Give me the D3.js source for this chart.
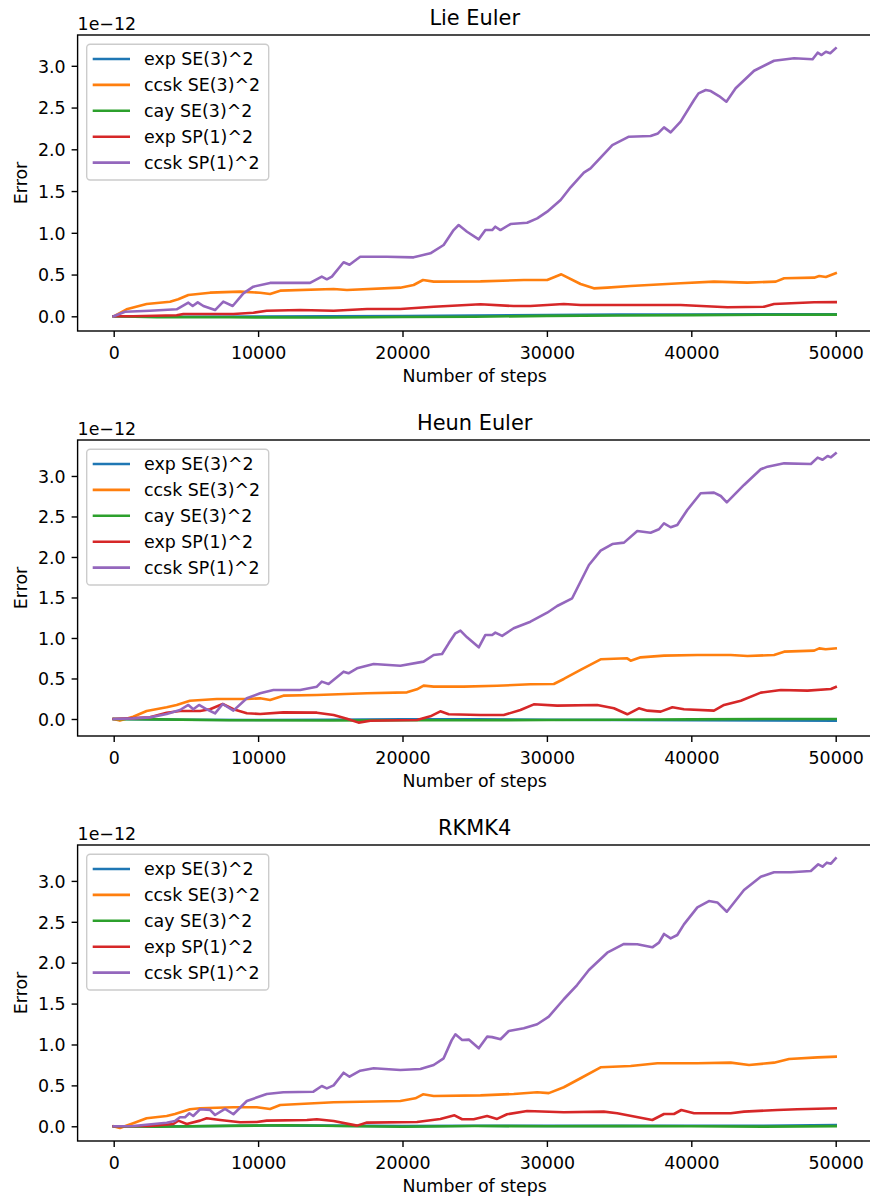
<!DOCTYPE html>
<html>
<head>
<meta charset="utf-8">
<script src="https://cdn.jsdelivr.net/npm/d3@7"></script>
<style>
  body { margin: 0; background: #fff; }
  text { font-family: "DejaVu Sans", sans-serif; fill: #000; }
</style>
</head>
<body>
<div id="chart"></div>
<script>
// panel titles, legend names and tick values
var panelTitles = ["Lie Euler", "Heun Euler", "RKMK4"];
var seriesNames = ["exp SE(3)^2", "ccsk SE(3)^2", "cay SE(3)^2", "exp SP(1)^2", "ccsk SP(1)^2"];
var seriesColors = ["#1f77b4", "#ff7f0e", "#2ca02c", "#d62728", "#9467bd"];
var xTicks = [0, 10000, 20000, 30000, 40000, 50000];
var yTicks = [0, 0.5, 1.0, 1.5, 2.0, 2.5, 3.0];

// values are [step, error / 1e-12]
// --- Lie Euler ---
var lieExpSE3 = [[0,0],[5000,-0.005],[10000,-0.004],[15000,0.0],[20000,0.004],[25000,0.01],[30000,0.015],[35000,0.02],[40000,0.022],[45000,0.024],[50000,0.025]];
var lieCcskSE3 = [[0,0],[890,0.084],[2280,0.147],[3900,0.175],[4470,0.204],[5170,0.255],[6670,0.283],[8750,0.295],[10140,0.283],[10830,0.267],[11530,0.307],[15230,0.327],[16150,0.315],[19850,0.343],[20770,0.375],[21420,0.435],[22160,0.415],[25400,0.418],[28400,0.435],[30020,0.435],[31000,0.503],[32330,0.387],[33250,0.335],[34180,0.343],[35800,0.363],[39260,0.395],[41570,0.415],[43890,0.403],[45850,0.415],[46430,0.455],[48510,0.463],[48860,0.483],[49320,0.47],[50000,0.515]];
var lieCaySE3 = [[0,0],[3000,-0.01],[8000,-0.012],[15000,-0.015],[20000,-0.008],[25000,-0.005],[30000,0.005],[35000,0.01],[40000,0.014],[45000,0.018],[50000,0.02]];
var lieExpSP1 = [[0,0],[1350,0],[4360,0.012],[4820,0.028],[8290,0.028],[9670,0.043],[10600,0.067],[12910,0.075],[15230,0.067],[17540,0.087],[19850,0.087],[22160,0.115],[25400,0.144],[27700,0.123],[28860,0.123],[31170,0.147],[32330,0.135],[34640,0.135],[39260,0.135],[42500,0.108],[45040,0.115],[45730,0.147],[48510,0.168],[50000,0.17]];
var lieCcskSP1 = [[0,0],[780,0.055],[2500,0.067],[4360,0.084],[5170,0.163],[5470,0.123],[5820,0.167],[6210,0.123],[7020,0.075],[7590,0.175],[8240,0.123],[8980,0.275],[9670,0.355],[10830,0.40],[12910,0.40],[13600,0.40],[14410,0.475],[14760,0.443],[15110,0.475],[15920,0.647],[16330,0.618],[17070,0.714],[18920,0.714],[20770,0.706],[21930,0.754],[22850,0.854],[23540,1.033],[23890,1.093],[24470,1.013],[25280,0.922],[25740,1.033],[26210,1.033],[26430,1.073],[26780,1.033],[27480,1.105],[28630,1.12],[29330,1.173],[30020,1.253],[30950,1.393],[31640,1.545],[32560,1.72],[33020,1.772],[34530,2.051],[35680,2.151],[37180,2.159],[37690,2.19],[38110,2.263],[38570,2.203],[39260,2.331],[40190,2.59],[40500,2.67],[41000,2.71],[41350,2.698],[41920,2.638],[42430,2.57],[43070,2.731],[44350,2.941],[45730,3.061],[47120,3.09],[48400,3.078],[48750,3.157],[49020,3.129],[49320,3.169],[49620,3.15],[50000,3.21]];

// --- Heun Euler ---
var heunExpSE3 = [[0,0],[5000,-0.01],[10000,-0.012],[15000,-0.01],[20000,-0.005],[25000,-0.005],[30000,-0.01],[35000,-0.012],[40000,-0.015],[45000,-0.018],[50000,-0.02]];
var heunCcskSE3 = [[0,0],[430,-0.02],[1350,0.028],[2280,0.099],[3670,0.144],[4360,0.173],[5280,0.226],[7140,0.247],[9220,0.247],[10140,0.255],[10830,0.235],[11750,0.288],[14070,0.296],[17540,0.317],[20310,0.329],[21000,0.366],[21460,0.412],[22160,0.4],[24240,0.4],[26550,0.41],[28860,0.428],[30480,0.432],[31170,0.494],[32330,0.605],[33720,0.737],[35560,0.749],[35800,0.72],[36490,0.761],[38110,0.782],[40420,0.79],[42730,0.79],[43890,0.778],[45730,0.79],[46430,0.831],[48510,0.844],[48860,0.872],[49300,0.86],[50000,0.872]];
var heunCaySE3 = [[0,0],[3000,-0.005],[8000,-0.015],[15000,-0.018],[20000,-0.015],[25000,-0.015],[30000,-0.012],[35000,-0.01],[40000,-0.005],[45000,0.0],[50000,0.0]];
var heunExpSP1 = [[0,0],[2510,0.02],[3670,0.078],[4590,0.099],[5980,0.099],[6670,0.12],[7550,0.185],[8290,0.12],[9220,0.07],[10140,0.062],[11750,0.082],[14070,0.078],[15230,0.049],[16150,0.004],[16960,-0.045],[17770,-0.021],[21000,-0.012],[21930,0.033],[22620,0.095],[23200,0.058],[25400,0.049],[27010,0.049],[28170,0.111],[29090,0.181],[30710,0.165],[33480,0.173],[34640,0.132],[35570,0.058],[36370,0.132],[36960,0.103],[37880,0.091],[38690,0.144],[39490,0.12],[41570,0.103],[42270,0.173],[43430,0.226],[44810,0.325],[46200,0.358],[48050,0.35],[49670,0.37],[50000,0.395]];
var heunCcskSP1 = [[0,0],[1350,0.008],[2510,0.02],[3670,0.062],[4590,0.111],[5170,0.173],[5510,0.12],[5910,0.173],[6440,0.12],[7020,0.07],[7550,0.185],[8290,0.103],[9220,0.255],[10140,0.317],[11060,0.358],[12910,0.358],[14070,0.399],[14410,0.461],[14880,0.432],[15920,0.584],[16260,0.564],[16850,0.626],[18000,0.679],[19850,0.658],[21460,0.708],[22160,0.79],[22740,0.802],[23200,0.934],[23660,1.058],[24010,1.09],[24470,1.008],[25280,0.885],[25740,1.037],[26210,1.037],[26430,1.066],[26900,1.025],[27700,1.12],[28860,1.201],[30020,1.312],[30710,1.395],[31750,1.49],[32910,1.901],[33720,2.078],[34530,2.16],[35340,2.177],[36260,2.321],[37180,2.3],[37760,2.342],[38110,2.416],[38570,2.367],[39030,2.395],[39720,2.58],[40650,2.786],[41570,2.794],[42040,2.753],[42460,2.675],[43650,2.889],[44810,3.083],[45280,3.115],[46430,3.156],[48280,3.148],[48750,3.226],[49090,3.2],[49440,3.247],[49670,3.23],[50000,3.28]];

// --- RKMK4 ---
var rkmkExpSE3 = [[0,0],[5000,0.0],[10000,0.01],[15000,0.008],[20000,0.002],[25000,0.006],[30000,0.005],[35000,0.005],[40000,0.006],[45000,0.006],[50000,0.015]];
var rkmkCcskSE3 = [[0,0],[430,-0.02],[1350,0.037],[2280,0.098],[3670,0.126],[4240,0.15],[5280,0.208],[5980,0.22],[8290,0.232],[9910,0.232],[10830,0.212],[11530,0.26],[15230,0.293],[19850,0.309],[20890,0.342],[21420,0.391],[22160,0.37],[25400,0.378],[27700,0.395],[29330,0.416],[30130,0.405],[31170,0.477],[32330,0.587],[33720,0.721],[35800,0.737],[37650,0.77],[40420,0.77],[42730,0.778],[44000,0.749],[45730,0.778],[46770,0.823],[48740,0.843],[50000,0.851]];
var rkmkCaySE3 = [[0,0],[3000,-0.005],[8000,0.005],[12000,0.012],[17000,0.0],[20000,-0.006],[25000,0.004],[30000,0.0],[35000,0.002],[40000,0.0],[45000,-0.004],[50000,0.002]];
var rkmkExpSP1 = [[0,0],[2510,0.004],[4130,0.028],[4470,0.069],[5060,0.028],[5980,0.069],[6440,0.098],[7370,0.077],[8750,0.049],[9910,0.053],[10600,0.069],[13380,0.077],[14070,0.086],[15230,0.065],[16850,0.008],[17540,0.045],[21000,0.053],[22620,0.089],[23600,0.134],[24130,0.086],[24930,0.086],[25860,0.126],[26550,0.09],[27240,0.147],[28630,0.187],[31170,0.171],[33940,0.179],[34870,0.16],[37300,0.077],[38110,0.15],[38800,0.15],[39310,0.199],[40190,0.159],[42730,0.159],[43650,0.179],[45960,0.199],[47340,0.208],[50000,0.22]];
var rkmkCcskSP1 = [[0,0],[1350,0.004],[3670,0.044],[4240,0.065],[4590,0.11],[4940,0.11],[5240,0.159],[5510,0.126],[5980,0.208],[6670,0.2],[7020,0.138],[7710,0.212],[8290,0.147],[9220,0.309],[10600,0.395],[11750,0.416],[13830,0.423],[14410,0.493],[14760,0.464],[15230,0.5],[15920,0.655],[16330,0.606],[17070,0.68],[18000,0.709],[19850,0.688],[21240,0.70],[22160,0.749],[22850,0.831],[23400,1.05],[23660,1.124],[24130,1.055],[24590,1.06],[25280,0.953],[25860,1.096],[26210,1.09],[26790,1.064],[27360,1.165],[28400,1.198],[29330,1.247],[30130,1.34],[31170,1.553],[32090,1.727],[32910,1.911],[34180,2.122],[35340,2.229],[36260,2.225],[37300,2.188],[37760,2.245],[38110,2.351],[38570,2.298],[39030,2.339],[39490,2.469],[40420,2.677],[41220,2.754],[41800,2.737],[42460,2.623],[43650,2.889],[44810,3.051],[45730,3.105],[46890,3.105],[48280,3.121],[48790,3.203],[49090,3.174],[49390,3.223],[49670,3.21],[50000,3.276]];

var panelSeries = [
  [lieExpSE3, lieCcskSE3, lieCaySE3, lieExpSP1, lieCcskSP1],
  [heunExpSE3, heunCcskSE3, heunCaySE3, heunExpSP1, heunCcskSP1],
  [rkmkExpSE3, rkmkCcskSE3, rkmkCaySE3, rkmkExpSP1, rkmkCcskSP1]
];
// axis limits of each panel (matplotlib auto margins)
var yLimits = [[-0.176, 3.369], [-0.21, 3.444], [-0.18, 3.439]];

var svgWidth = 870;
var svgHeight = 1198;
var fontSize = 17.4;

// panel layout
var plotLeft = 77.6;
var plotRight = 871.8;
var plotTops = [35, 440, 845];
var plotHeight = 296;

var svg = d3.select("#chart")
  .append("svg")
  .attr("width", svgWidth)
  .attr("height", svgHeight);

var xScale = d3.scaleLinear()
  .domain([-2500, 52500])
  .range([plotLeft, plotRight]);

panelTitles.forEach(function(title, p) {
  var top = plotTops[p];
  var bottom = top + plotHeight;

  var yScale = d3.scaleLinear()
    .domain(yLimits[p])
    .range([bottom, top]);

  var g = svg.append("g");

  // x axis
  var xAxis = g.append("g")
    .attr("transform", `translate(0, ${bottom})`)
    .call(d3.axisBottom(xScale).tickValues(xTicks).tickFormat(d3.format("d"))
      .tickSize(6).tickSizeOuter(0).tickPadding(5));
  // y axis
  var yAxis = g.append("g")
    .attr("transform", `translate(${plotLeft}, 0)`)
    .call(d3.axisLeft(yScale).tickValues(yTicks).tickFormat(d3.format(".1f"))
      .tickSize(6).tickSizeOuter(0).tickPadding(6));

  [xAxis, yAxis].forEach(function(ax) {
    ax.select(".domain").remove();
    ax.selectAll(".tick line").attr("stroke", "#000").attr("stroke-width", 1.4);
    ax.selectAll(".tick text")
      .style("font-family", "'DejaVu Sans', sans-serif")
      .style("font-size", fontSize + "px")
      .attr("fill", "#000");
  });
  xAxis.selectAll(".tick text").attr("dy", "0.95em");
  yAxis.selectAll(".tick text").attr("dy", "0.36em");

  // lines
  var line = d3.line()
    .x(d => xScale(d[0]))
    .y(d => yScale(d[1]));

  panelSeries[p].forEach(function(series, i) {
    g.append("path")
      .datum(series)
      .attr("d", line)
      .attr("fill", "none")
      .attr("stroke", seriesColors[i])
      .attr("stroke-width", 2.6)
      .attr("stroke-linejoin", "round")
      .attr("stroke-linecap", "square");
  });

  // frame
  g.append("rect")
    .attr("x", plotLeft)
    .attr("y", top)
    .attr("width", plotRight - plotLeft)
    .attr("height", plotHeight)
    .attr("fill", "none")
    .attr("stroke", "#000")
    .attr("stroke-width", 1.4);

  // title
  g.append("text")
    .attr("x", (plotLeft + plotRight) / 2)
    .attr("y", top - 10)
    .attr("text-anchor", "middle")
    .style("font-size", "20.9px")
    .text(title);

  // offset text
  g.append("text")
    .attr("x", plotLeft)
    .attr("y", top - 5)
    .style("font-size", fontSize + "px")
    .text("1e\u221212");

  // axis labels
  g.append("text")
    .attr("x", (plotLeft + plotRight) / 2)
    .attr("y", bottom + 51)
    .attr("text-anchor", "middle")
    .style("font-size", fontSize + "px")
    .text("Number of steps");

  g.append("text")
    .attr("transform", `translate(26.5, ${(top + bottom) / 2}) rotate(-90)`)
    .attr("text-anchor", "middle")
    .style("font-size", fontSize + "px")
    .text("Error");

  // legend
  var legend = g.append("g")
    .attr("transform", `translate(86.7, ${top + 9.3})`);

  legend.append("rect")
    .attr("width", 182)
    .attr("height", 135.7)
    .attr("rx", 3.5)
    .attr("fill", "#fff")
    .attr("fill-opacity", 0.8)
    .attr("stroke", "#cccccc")
    .attr("stroke-width", 1.4);

  seriesNames.forEach(function(name, i) {
    var rowY = 14.7 + i * 25.9;
    legend.append("line")
      .attr("x1", 6)
      .attr("x2", 43.3)
      .attr("y1", rowY)
      .attr("y2", rowY)
      .attr("stroke", seriesColors[i])
      .attr("stroke-width", 2.6);
    legend.append("text")
      .attr("x", 57.3)
      .attr("y", rowY)
      .attr("dy", "0.36em")
      .style("font-size", fontSize + "px")
      .text(name);
  });
});
</script>
</body>
</html>
